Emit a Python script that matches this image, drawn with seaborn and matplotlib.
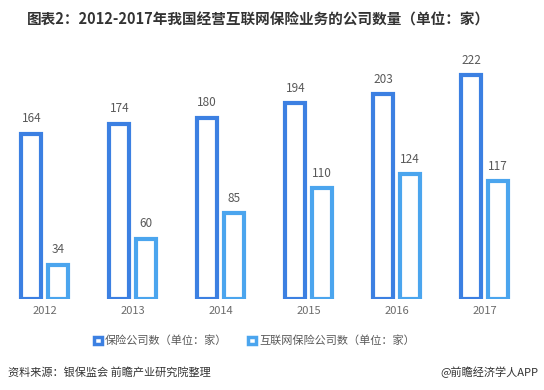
import matplotlib
matplotlib.use("Agg")
import matplotlib.pyplot as plt
import seaborn as sns
import pandas as pd
from matplotlib.patches import Patch

years = ["2012", "2013", "2014", "2015", "2016", "2017"]
insurers = [164, 174, 180, 194, 203, 222]
internet_insurers = [34, 60, 85, 110, 124, 117]
series_names = ["保险公司数（单位：家）", "互联网保险公司数（单位：家）"]
colors = ["#3C80E2", "#4BA5EE"]

sns.set_theme(style="white")
plt.rcParams['font.family'] = ['Noto Sans CJK SC', 'DejaVu Sans']

df = pd.DataFrame({
    "year": years * 2,
    "value": insurers + internet_insurers,
    "series": [series_names[0]] * len(years) + [series_names[1]] * len(years),
})

fig = plt.figure(figsize=(5.44, 3.90), dpi=100)
ax = fig.add_axes([0.5 / 544, 91 / 390, 528 / 544, 252 / 390])

sns.barplot(data=df, x="year", y="value", hue="series", hue_order=series_names,
            palette=colors, width=0.6, gap=0.25, fill=False, linewidth=3,
            ax=ax, legend=False, errorbar=None)

for i, c in enumerate(colors):
    for p in ax.containers[i]:
        p.set_edgecolor(c)
        p.set_facecolor("white")
        p.set_linewidth(3)
    ax.bar_label(ax.containers[i], padding=6, fontsize=8.5, color="#595959")

ax.set_xlim(-0.5, 5.5)
ax.set_ylim(0, 250)
ax.set_xlabel("")
ax.set_ylabel("")
ax.set_yticks([])
ax.tick_params(axis="x", length=0, labelsize=8, labelcolor="#6b6b6b", pad=5)
for s in ax.spines.values():
    s.set_visible(False)

handles = [Patch(facecolor="white", edgecolor=c, linewidth=2.5) for c in colors]
fig.legend(handles, series_names, loc="center", bbox_to_anchor=(0.468, 1 - 341 / 390),
           ncol=2, frameon=False, fontsize=8, handlelength=0.7, handleheight=0.7,
           handletextpad=0.3, columnspacing=1.9, labelcolor="#595959")

fig.text(258 / 544, 1 - 20 / 390, "图表2：2012-2017年我国经营互联网保险业务的公司数量（单位：家）",
         ha="center", va="center", fontsize=10.5, fontweight="bold", color="#333333")
fig.text(8 / 544, 1 - 372 / 390, "资料来源：银保监会 前瞻产业研究院整理",
         ha="left", va="center", fontsize=8, style="italic", color="#333333")
fig.text(538 / 544, 1 - 372 / 390, "@前瞻经济学人APP",
         ha="right", va="center", fontsize=8, color="#333333")

fig.savefig("out.png", dpi=100)
